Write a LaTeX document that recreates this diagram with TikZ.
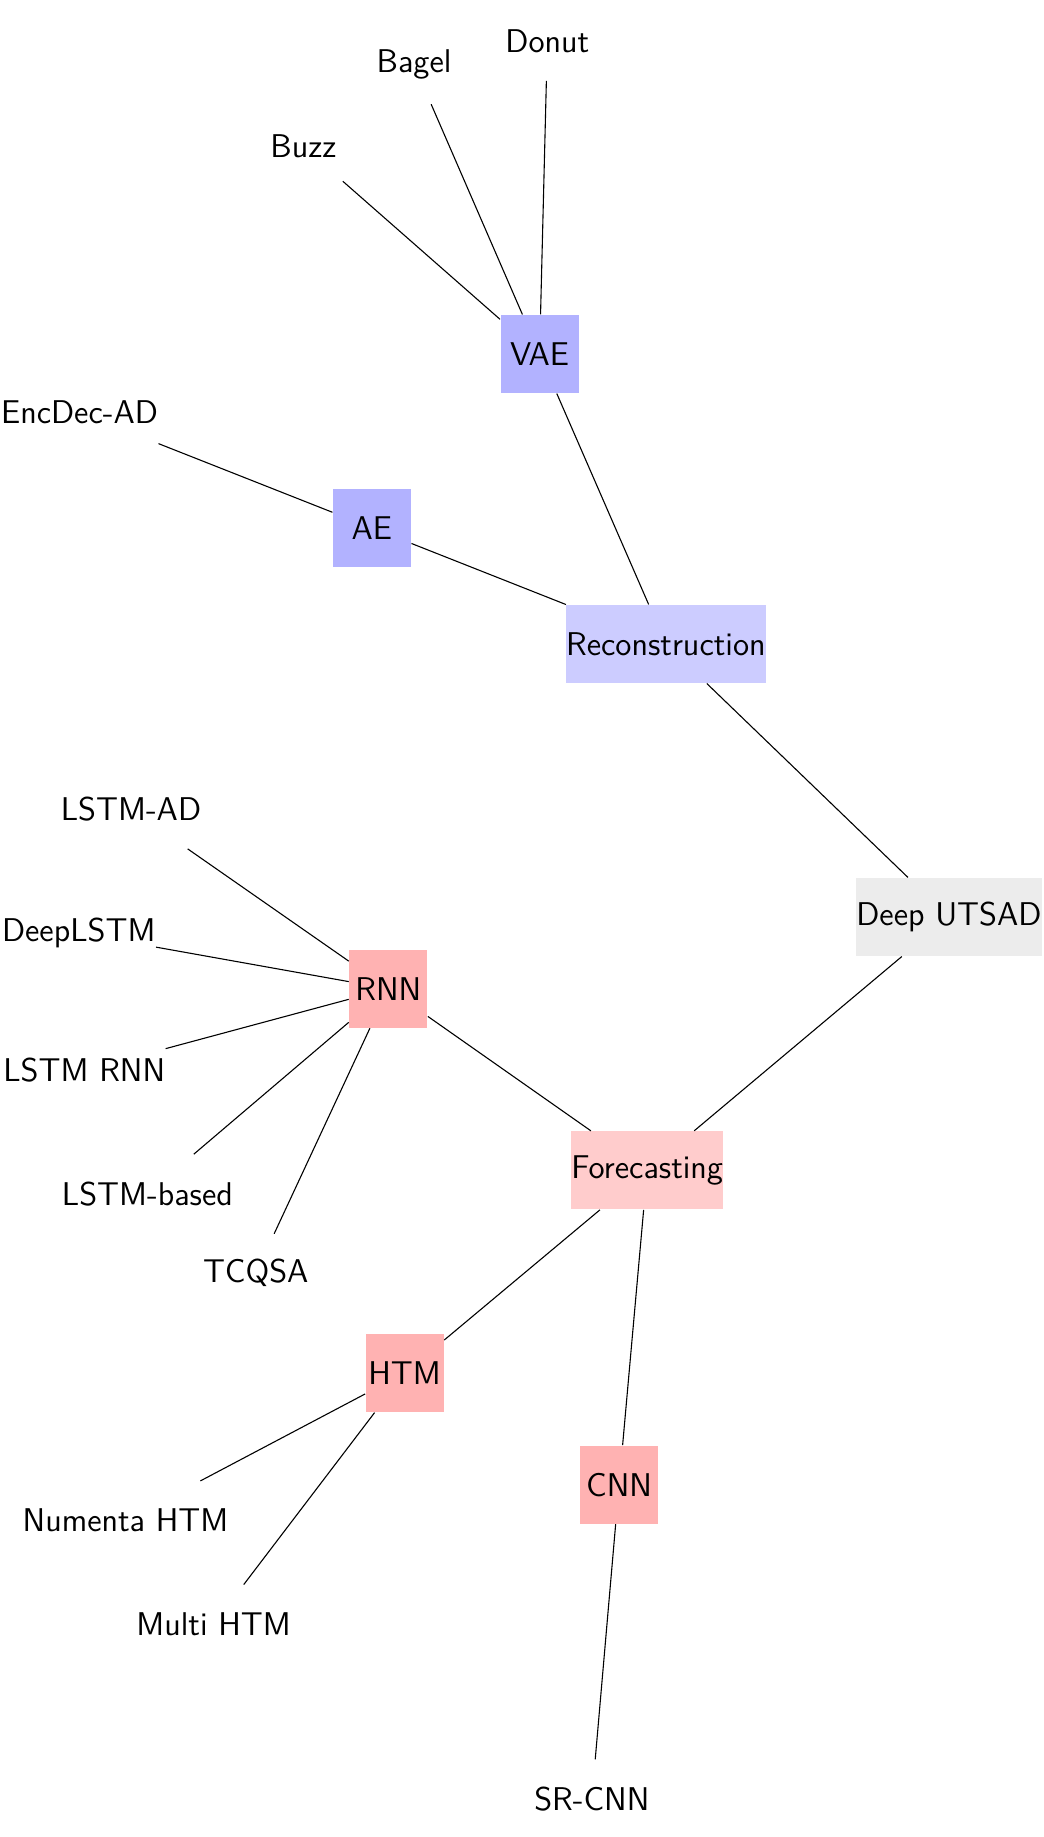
\documentclass[tikz,border=0pt]{standalone}
\begin{document}
\begin{tikzpicture}[font=\sffamily\large, every node/.style={minimum size=1cm, inner sep=0pt},
  root/.style={fill=gray!15}, recon/.style={fill=blue!20}, reconsub/.style={fill=blue!30},
  fore/.style={fill=red!20}, foresub/.style={fill=red!30}]
\useasboundingbox (0,0) rectangle (13.38,-23.56);
% root
\node[root] (utsad) at (12.17,-11.76) {Deep UTSAD};
% reconstruction
\node[recon] (recon) at (8.54,-8.26) {Reconstruction};
\node[reconsub] (vae) at (6.92,-4.54) {VAE};
\node[reconsub] (ae) at (4.77,-6.77) {AE};
\node (donut) at (7.02,-0.53) {Donut};
\node (bagel) at (5.31,-0.83) {Bagel};
\node (buzz) at (3.89,-1.88) {Buzz};
\node (encdec) at (1.02,-5.29) {EncDec-AD};
% forecasting
\node[fore] (fore) at (8.30,-15.01) {Forecasting};
\node[foresub] (rnn) at (4.98,-12.68) {RNN};
\node[foresub] (htm) at (5.19,-17.61) {HTM};
\node[foresub] (cnn) at (7.94,-19.04) {CNN};
\node (lstmad) at (1.68,-10.38) {LSTM-AD};
\node (deeplstm) at (1.01,-11.97) {DeepLSTM};
\node (lstmrnn) at (1.08,-13.73) {LSTM RNN};
\node (lstmbased) at (1.89,-15.31) {LSTM-based};
\node (tcqsa) at (3.28,-16.33) {TCQSA};
\node (numenta) at (1.61,-19.50) {Numenta HTM};
\node (multihtm) at (2.74,-20.83) {Multi HTM};
\node (srcnn) at (7.59,-23.07) {SR-CNN};
% edges
\draw (utsad) -- (recon) (utsad) -- (fore);
\draw (recon) -- (vae) (recon) -- (ae);
\foreach \n in {donut,bagel,buzz} \draw (vae) -- (\n);
\draw (ae) -- (encdec);
\draw (fore) -- (rnn) (fore) -- (htm) (fore) -- (cnn);
\foreach \n in {lstmad,deeplstm,lstmrnn,lstmbased,tcqsa} \draw (rnn) -- (\n);
\draw (htm) -- (numenta) (htm) -- (multihtm);
\draw (cnn) -- (srcnn);
\end{tikzpicture}
\end{document}
